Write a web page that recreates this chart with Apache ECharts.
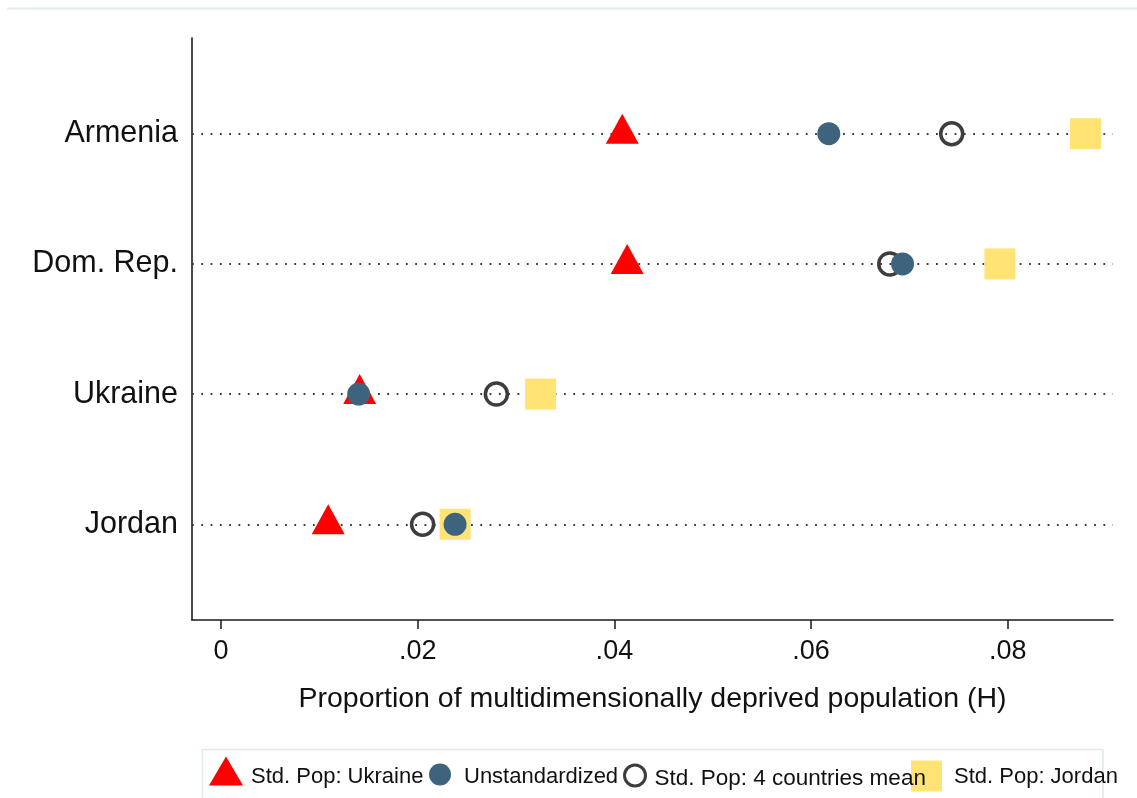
<!DOCTYPE html>
<html>
<head>
<meta charset="utf-8">
<title>Multidimensional deprivation (H)</title>
<script src="https://cdn.jsdelivr.net/npm/echarts@6/dist/echarts.min.js"></script>
<style>
  html, body { margin: 0; padding: 0; background: #ffffff; }
  #chart { width: 1137px; height: 798px; }
</style>
</head>
<body>
<div id="chart"></div>
<script>
// Rows from bottom (1) to top (4)
const countries = ['Jordan', 'Ukraine', 'Dom. Rep.', 'Armenia'];

// Proportion of multidimensionally deprived population (H), one value per country
const stdPopUkraine  = [0.0109, 0.0141, 0.0413, 0.0408];
const unstandardized = [0.0238, 0.0140, 0.0693, 0.0618];
const stdPop4Mean    = [0.0205, 0.0280, 0.0680, 0.0743];
const stdPopJordan   = [0.0238, 0.0325, 0.0792, 0.0879];

const seriesNames = ['Std. Pop: Ukraine', 'Unstandardized', 'Std. Pop: 4 countries mean', 'Std. Pop: Jordan'];

const xTicks = [0, 0.02, 0.04, 0.06, 0.08];
const xTickLabels = ['0', '.02', '.04', '.06', '.08'];
const rowTicks = [1, 2, 3, 4];

const FONT = "'Liberation Sans', Arial, sans-serif";
const TEXT = '#111111';

const toPoints = vals => countries.map((c, i) => [vals[i], rowTicks[i]]);

const chart = echarts.init(document.getElementById('chart'), null, { renderer: 'canvas' });

// One legend block per key so each symbol keeps its own size;
// the rich-text padding nudges the caption relative to its symbol.
function legendBlock(name, icon, itemStyle, left, top, size, z, fontSize, pad) {
  return {
    orient: 'horizontal',
    padding: 0,
    selectedMode: false,
    symbolKeepAspect: false,
    left: left, top: top,
    itemWidth: size[0], itemHeight: size[1],
    z: z,
    data: [{ name: name, icon: icon, itemStyle: itemStyle }],
    formatter: '{t|{name}}',
    textStyle: {
      fontFamily: FONT, fontSize: fontSize, color: TEXT,
      rich: { t: { fontFamily: FONT, fontSize: fontSize, color: TEXT, padding: pad } }
    }
  };
}

const option = {
  backgroundColor: '#ffffff',
  animation: false,
  grid: { left: 192, right: 24, top: 38, bottom: 178, containLabel: false },
  xAxis: {
    type: 'value',
    min: -0.00295,
    max: 0.0907,
    name: 'Proportion of multidimensionally deprived population (H)',
    nameLocation: 'middle',
    nameGap: 65,
    nameTextStyle: { fontFamily: FONT, fontSize: 28.5, color: TEXT },
    axisLine: { show: true, onZero: false, lineStyle: { color: '#1a1a1a', width: 1.6 } },
    axisTick: { show: true, customValues: xTicks, length: 9, lineStyle: { color: '#1a1a1a', width: 1.5 } },
    axisLabel: {
      customValues: xTicks,
      margin: 18,
      fontFamily: FONT, fontSize: 27, color: TEXT,
      formatter: v => {
        const k = xTicks.findIndex(t => Math.abs(t - v) < 1e-9);
        return k >= 0 ? xTickLabels[k] : '';
      }
    },
    splitLine: { show: false }
  },
  yAxis: {
    type: 'value',
    min: 0.265,
    max: 4.735,
    axisLine: { show: true, onZero: false, lineStyle: { color: '#1a1a1a', width: 1.6 } },
    axisTick: { show: false },
    axisLabel: {
      customValues: rowTicks,
      margin: 14,
      fontFamily: FONT, fontSize: 30.5, color: TEXT,
      formatter: v => countries[Math.round(v) - 1] || ''
    },
    splitLine: { show: false }
  },
  legend: [
    legendBlock(seriesNames[0], 'triangle', { color: '#ff0000', borderWidth: 0 },
      209, 756.5, [34, 29], 3, 22, [12, 0, 0, 3]),
    legendBlock(seriesNames[1], 'circle', { color: '#3e647d', borderWidth: 0 },
      429, 763.5, [22, 22], 3, 22, [5, 0, 0, 8]),
    legendBlock(seriesNames[2], 'circle', { color: 'rgba(255,255,255,0)', borderColor: '#3d3d3d', borderWidth: 3 },
      623, 763.5, [21, 21], 4, 22.5, [6, 0, 0, 4]),
    legendBlock(seriesNames[3], 'rect', { color: '#ffe374', borderWidth: 0 },
      911, 760.5, [31, 31], 2, 22, [2, 0, 0, 7])
  ],
  graphic: [
    {
      type: 'line', silent: true, z: 0,
      shape: { x1: 7, y1: 8.5, x2: 1137, y2: 8.5 },
      style: { stroke: '#e3ecee', lineWidth: 2 }
    },
    {
      type: 'rect', silent: true, z: 0,
      shape: { x: 202.5, y: 749.5, width: 900.5, height: 70 },
      style: { fill: 'none', stroke: '#e0e9eb', lineWidth: 1.5 }
    }
  ],
  series: [
    {
      name: seriesNames[0],
      type: 'scatter',
      z: 2,
      symbol: 'triangle',
      symbolSize: [33, 30],
      symbolOffset: [0, -5],
      itemStyle: { color: '#ff0000', opacity: 1 },
      emphasis: { disabled: true },
      data: toPoints(stdPopUkraine),
      markLine: {
        z: 1,
        silent: true,
        symbol: ['none', 'none'],
        label: { show: false },
        emphasis: { disabled: true },
        lineStyle: { color: '#3a3a3a', width: 1.8, type: [1.8, 7.5], opacity: 1 },
        data: rowTicks.map(r => ({ yAxis: r }))
      }
    },
    {
      name: seriesNames[2],
      type: 'scatter',
      z: 3,
      symbol: 'circle',
      symbolSize: 22,
      itemStyle: { color: 'rgba(255,255,255,0)', borderColor: '#3d3d3d', borderWidth: 3.5, opacity: 1 },
      emphasis: { disabled: true },
      data: toPoints(stdPop4Mean)
    },
    {
      name: seriesNames[3],
      type: 'scatter',
      z: 4,
      symbol: 'rect',
      symbolSize: 31,
      itemStyle: { color: '#ffe374', opacity: 1 },
      emphasis: { disabled: true },
      data: toPoints(stdPopJordan)
    },
    {
      name: seriesNames[1],
      type: 'scatter',
      z: 5,
      symbol: 'circle',
      symbolSize: 23,
      itemStyle: { color: '#3e647d', opacity: 1 },
      emphasis: { disabled: true },
      data: toPoints(unstandardized)
    }
  ]
};

chart.setOption(option);
</script>
</body>
</html>
